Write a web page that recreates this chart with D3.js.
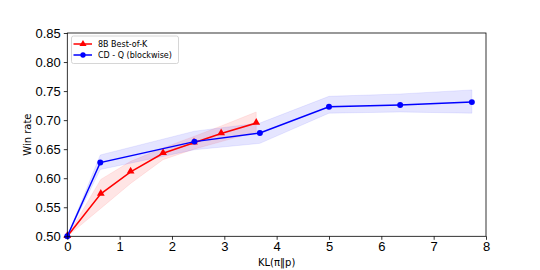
<!DOCTYPE html>
<html lang="en">
<head>
<meta charset="UTF-8">
<title>Win rate vs KL</title>
<script src="https://d3js.org/d3.v7.min.js"></script>
<style>
  body { margin: 0; background: #fff; }
  svg { display: block; font-family: "DejaVu Sans", sans-serif; }
  .tick text { font-size: 13px; fill: #000; }
  .axis-label { font-size: 10px; fill: #000; }
  .legend text { font-size: 8px; fill: #000; }
</style>
</head>
<body>
<svg width="540" height="270"></svg>
<script>
// Best-of-K (red)
const bokKL   = [0, 0.64, 1.21, 1.83, 2.42, 2.94, 3.61];
const bokWin  = [0.50, 0.573, 0.611, 0.643, 0.661, 0.677, 0.695];
const bokLow  = [0.50, 0.548, 0.591, 0.632, 0.650, 0.663, 0.680];
const bokHigh = [0.50, 0.598, 0.629, 0.652, 0.672, 0.690, 0.714];

// CD-Q blockwise (blue)
const cdqKL   = [0, 0.63, 2.43, 3.68, 5.0, 6.36, 7.73];
const cdqWin  = [0.50, 0.627, 0.663, 0.678, 0.723, 0.726, 0.731];
const cdqLow  = [0.50, 0.615, 0.649, 0.660, 0.712, 0.714, 0.712];
const cdqHigh = [0.50, 0.640, 0.681, 0.695, 0.741, 0.745, 0.752];

const xTicks = [0, 1, 2, 3, 4, 5, 6, 7, 8];
const yTicks = [0.50, 0.55, 0.60, 0.65, 0.70, 0.75, 0.80, 0.85];

const margin = { left: 67.3, right: 54, top: 33, bottom: 33.7 };
const W = 540, H = 270;

const svg = d3.select("svg");
const x = d3.scaleLinear().domain([0, 8]).range([margin.left, W - margin.right]);
const y = d3.scaleLinear().domain([0.5, 0.85]).range([H - margin.bottom, margin.top]);

const series = [
  { name: "8B Best-of-K", color: "#ff0000", kl: bokKL, win: bokWin, lo: bokLow, hi: bokHigh, marker: "triangle" },
  { name: "CD - Q (blockwise)", color: "#0000ff", kl: cdqKL, win: cdqWin, lo: cdqLow, hi: cdqHigh, marker: "circle" }
];

// bands
series.forEach(s => {
  const pts = s.kl.map((k, i) => ({ k, lo: s.lo[i], hi: s.hi[i] }));
  svg.append("path")
    .datum(pts)
    .attr("fill", s.color)
    .attr("fill-opacity", 0.1)
    .attr("stroke", s.color)
    .attr("stroke-opacity", 0.08)
    .attr("d", d3.area().x(d => x(d.k)).y0(d => y(d.lo)).y1(d => y(d.hi)));
});

// lines + markers
series.forEach(s => {
  const pts = s.kl.map((k, i) => ({ k, v: s.win[i] }));
  svg.append("path")
    .datum(pts)
    .attr("fill", "none")
    .attr("stroke", s.color)
    .attr("stroke-width", 1.5)
    .attr("d", d3.line().x(d => x(d.k)).y(d => y(d.v)));
  const sym = s.marker === "triangle"
    ? d3.symbol().type(d3.symbolTriangle).size(26)
    : d3.symbol().type(d3.symbolCircle).size(28);
  svg.append("g").selectAll("path")
    .data(pts)
    .join("path")
    .attr("transform", d => `translate(${x(d.k)},${y(d.v) + (s.marker === "triangle" ? -0.5 : 0)})`)
    .attr("d", sym)
    .attr("fill", s.color);
});

// axes
const xAxis = svg.append("g")
  .attr("transform", `translate(0,${H - margin.bottom})`)
  .call(d3.axisBottom(x).tickValues(xTicks).tickFormat(d3.format("d")).tickSize(3.5).tickPadding(1));
const yAxis = svg.append("g")
  .attr("transform", `translate(${margin.left},0)`)
  .call(d3.axisLeft(y).tickValues(yTicks).tickFormat(d3.format(".2f")).tickSize(3.5).tickPadding(3));
[xAxis, yAxis].forEach(a => {
  a.select(".domain").remove();
  a.selectAll(".tick line").attr("stroke", "#000").attr("stroke-width", 0.8);
});
xAxis.selectAll(".tick text").attr("dy", "0.8em");

// frame
svg.append("rect")
  .attr("x", margin.left).attr("y", margin.top)
  .attr("width", W - margin.left - margin.right)
  .attr("height", H - margin.top - margin.bottom)
  .attr("fill", "none").attr("stroke", "#000").attr("stroke-width", 0.8);

svg.append("text")
  .attr("class", "axis-label")
  .attr("x", (margin.left + W - margin.right) / 2)
  .attr("y", 265.5)
  .attr("text-anchor", "middle")
  .text("KL(π\u2016p)");

svg.append("text")
  .attr("class", "axis-label")
  .attr("transform", `translate(31,${(margin.top + H - margin.bottom) / 2}) rotate(-90)`)
  .attr("text-anchor", "middle")
  .text("Win rate");

// legend
const lg = svg.append("g").attr("class", "legend");
lg.append("rect")
  .attr("x", 71.5).attr("y", 36).attr("width", 107).attr("height", 27.5)
  .attr("rx", 2).attr("fill", "#fff").attr("fill-opacity", 0.8)
  .attr("stroke", "#ccc").attr("stroke-width", 0.8);
series.forEach((s, i) => {
  const ly = 44 + i * 11;
  lg.append("line")
    .attr("x1", 73.5).attr("x2", 92).attr("y1", ly).attr("y2", ly)
    .attr("stroke", s.color).attr("stroke-width", 1.5);
  lg.append("path")
    .attr("transform", `translate(83,${ly})`)
    .attr("d", d3.symbol().type(s.marker === "triangle" ? d3.symbolTriangle : d3.symbolCircle).size(22))
    .attr("fill", s.color);
  lg.append("text")
    .attr("x", 98).attr("y", ly).attr("dy", "0.35em")
    .text(s.name);
});
</script>
</body>
</html>
